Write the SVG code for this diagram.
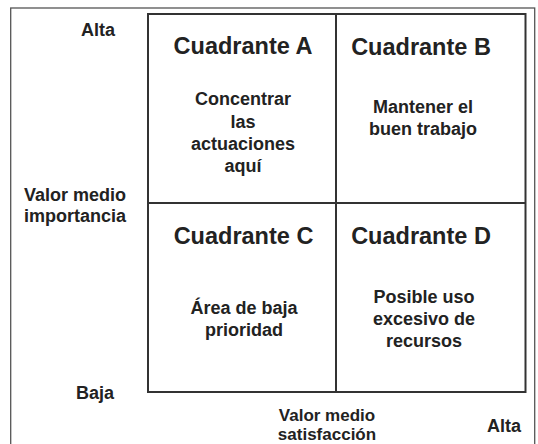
<svg xmlns="http://www.w3.org/2000/svg" width="538" height="444" viewBox="0 0 538 444">
<style>
text{font-family:"Liberation Sans",Arial,sans-serif;font-weight:bold;fill:#222;text-anchor:middle}
.t{font-size:23.5px}
.b{font-size:18px}
.ax{font-size:18px}
.sx{font-size:17px}
.grid{stroke:#333;stroke-width:2;fill:none}
</style>
<rect x="0" y="0" width="538" height="444" fill="#fff"/>
<rect x="10.7" y="8" width="524" height="450" fill="none" stroke="#555" stroke-width="1.3"/>
<g id="connectors">
<rect class="grid" x="148" y="14" width="377.5" height="378"/>
<line class="grid" x1="336" y1="14" x2="336" y2="392"/>
<line class="grid" x1="148" y1="203" x2="525.5" y2="203"/>
</g>
<g id="quadA">
<text class="t" x="243" y="54">Cuadrante A</text>
<text class="b" x="243" y="105">Concentrar</text>
<text class="b" x="243" y="127.5">las</text>
<text class="b" x="243" y="150">actuaciones</text>
<text class="b" x="243" y="172">aquí</text>
</g>
<g id="quadB">
<text class="t" x="421" y="54.5">Cuadrante B</text>
<text class="b" x="423" y="113">Mantener el</text>
<text class="b" x="423" y="134.5">buen trabajo</text>
</g>
<g id="quadC">
<text class="t" x="243.5" y="244">Cuadrante C</text>
<text class="b" x="244" y="314">Área de baja</text>
<text class="b" x="244" y="335.5">prioridad</text>
</g>
<g id="quadD">
<text class="t" x="421" y="244">Cuadrante D</text>
<text class="b" x="424" y="303">Posible uso</text>
<text class="b" x="424" y="325">excesivo de</text>
<text class="b" x="424" y="347">recursos</text>
</g>
<g id="axisY">
<text class="ax" x="98" y="36">Alta</text>
<text class="ax" x="75" y="200.5">Valor medio</text>
<text class="ax" x="75" y="222">importancia</text>
<text class="ax" x="95" y="399">Baja</text>
</g>
<g id="axisX">
<text class="sx" x="327" y="420.5">Valor medio</text>
<text class="sx" x="327" y="440">satisfacción</text>
<text class="ax" x="504" y="431.5">Alta</text>
</g>
</svg>
